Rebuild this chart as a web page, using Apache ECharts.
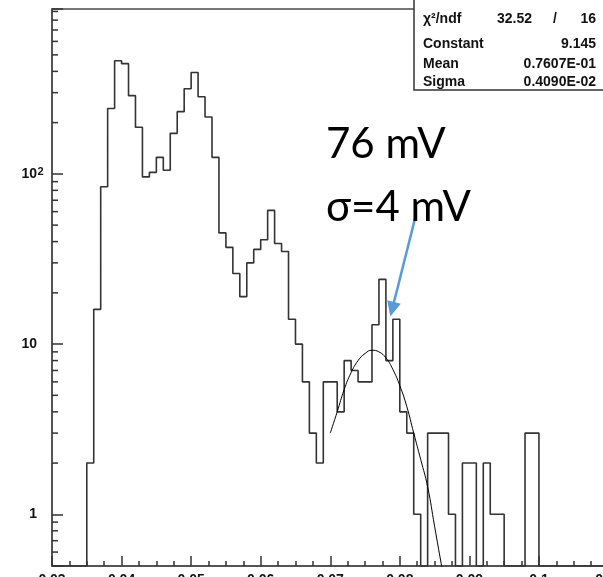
<!DOCTYPE html>
<html>
<head>
<meta charset="utf-8">
<script src="https://cdn.jsdelivr.net/npm/echarts@6/dist/echarts.min.js"></script>
<style>
  html, body { margin: 0; padding: 0; overflow: hidden; background: #fff; }
  #c { width: 610px; height: 577px; }
</style>
</head>
<body>
<div id="c"></div>
<script>
// Pulse-height histogram: 80 bins of 0.001 from 0.030 to 0.110
const binStart = 0.030;
const binWidth = 0.001;
const counts = [
  0, 0, 0, 0, 0,   2, 16, 84, 242, 462,
  444, 288, 188, 96, 102,   125, 105, 173, 232, 316,
  394, 284, 216, 125, 45,   37, 26, 19, 30, 36,
  41, 61, 39, 35, 14,   10, 6, 3, 2, 6,
  6, 4, 8, 7, 6,   6, 13, 24, 8, 14,
  4, 3, 1, 0, 3,   3, 3, 1, 0, 2,
  2, 0, 2, 1, 1,   0, 0, 0, 3, 3,
  0, 0, 0, 0, 0,   0, 0, 0, 0, 0
];

// Gaussian fit curve, sampled along its fit range
const fitX = [0.070, 0.071, 0.072, 0.073, 0.074, 0.075, 0.076, 0.077, 0.078,
              0.079, 0.080, 0.081, 0.082, 0.083, 0.084, 0.085, 0.086, 0.087];
const fitY = [3.0, 4.0, 5.4, 6.8, 8.0, 8.8, 9.2, 9.0, 8.3,
              7.1, 5.7, 4.3, 3.0, 2.1, 1.45, 0.85, 0.5, 0.3];

// Axis ranges
const xMin = 0.03, xMax = 0.11, xStep = 0.01;
const yMin = 0.497, yMax = 930;
const yMinorTicks = [0.6, 0.7, 0.8, 0.9,
                     2, 3, 4, 5, 6, 7, 8, 9,
                     20, 30, 40, 50, 60, 70, 80, 90,
                     200, 300, 400, 500, 600, 700, 800, 900];

// Fit statistics box
const statLabels = ['χ²/ndf', 'Constant', 'Mean', 'Sigma'];
const statValues = ['', '9.145', '0.7607E-01', '0.4090E-02'];
const chiValue = '32.52', ndfValue = '16';

// Annotation
const noteLines = ['76 mV', 'σ=4 mV'];
const arrowFrom = [0.0823, 57];
const arrowTo = [0.0789, 16];

// Step outline points: one per bin edge, empty bins rest on the axis floor
const histPoints = counts.map((c, i) => [+(binStart + i * binWidth).toFixed(4), c > 0 ? c : yMin]);
histPoints.push([+(binStart + counts.length * binWidth).toFixed(4), counts[counts.length - 1] > 0 ? counts[counts.length - 1] : yMin]);

const fitPoints = fitX.map((x, i) => [x, fitY[i]]);

const chart = echarts.init(document.getElementById('c'), null, { renderer: 'canvas' });

const isDecade = v => Math.abs(Math.log10(v) - Math.round(Math.log10(v))) < 1e-6;

const statFont = 'bold 14px "Liberation Sans", Arial, sans-serif';
const boxLeft = 414, boxRight = 596;
const rowY = [19, 44, 64, 82];

const graphics = [
  { type: 'rect', shape: { x: boxLeft, y: -2, width: 220, height: 92 },
    style: { fill: '#fff', stroke: '#333', lineWidth: 1.5 }, z: 100 }
];
statLabels.forEach((t, i) => {
  graphics.push({ type: 'text', x: boxLeft + 9, y: rowY[i], z: 101,
    style: { text: t, font: statFont, fill: '#111', verticalAlign: 'middle', align: 'left' } });
  if (statValues[i]) {
    graphics.push({ type: 'text', x: boxRight, y: rowY[i], z: 101,
      style: { text: statValues[i], font: statFont, fill: '#111', verticalAlign: 'middle', align: 'right' } });
  }
});
graphics.push({ type: 'text', x: 532, y: rowY[0], z: 101,
  style: { text: chiValue, font: statFont, fill: '#111', verticalAlign: 'middle', align: 'right' } });
graphics.push({ type: 'text', x: 555, y: rowY[0], z: 101,
  style: { text: '/', font: statFont, fill: '#111', verticalAlign: 'middle', align: 'center' } });
graphics.push({ type: 'text', x: boxRight, y: rowY[0], z: 101,
  style: { text: ndfValue, font: statFont, fill: '#111', verticalAlign: 'middle', align: 'right' } });

const noteFont = '42px Lato, "Open Sans", sans-serif';
graphics.push({ type: 'text', x: 326, y: 144, z: 90,
  style: { text: noteLines[0], font: noteFont, fill: '#000', verticalAlign: 'middle' } });
graphics.push({ type: 'text', x: 326, y: 207, z: 90,
  style: { text: noteLines[1], font: noteFont, fill: '#000', verticalAlign: 'middle' } });

chart.setOption({
  animation: false,
  backgroundColor: '#fff',
  grid: { left: 52, top: 9, width: 556.5, height: 557, show: true,
          containLabel: false, outerBoundsMode: 'none',
          borderColor: '#4a4a4a', borderWidth: 1.5, backgroundColor: 'transparent' },
  xAxis: {
    type: 'value', min: xMin, max: xMax, interval: xStep,
    axisLine: { show: true, lineStyle: { color: '#4a4a4a', width: 1.5 } },
    axisTick: { show: true, inside: true, length: 10, lineStyle: { color: '#333', width: 1.5 } },
    minorTick: { show: true, splitNumber: 4, length: 5, lineStyle: { color: '#333', width: 1.5 } },
    splitLine: { show: false },
    axisLabel: { margin: 7, color: '#111', fontSize: 14, fontWeight: 'bold',
                 fontFamily: '"Liberation Sans", Arial, sans-serif' }
  },
  yAxis: {
    type: 'log', logBase: 10, min: yMin, max: yMax,
    axisLine: { show: true, lineStyle: { color: '#4a4a4a', width: 1.5 } },
    axisTick: { show: true, inside: true, length: 11, lineStyle: { color: '#333', width: 1.5 } },
    splitLine: { show: false },
    axisLabel: {
      margin: 8, color: '#111',
      formatter: v => {
        if (!isDecade(v)) return '';
        const e = Math.round(Math.log10(v));
        if (e <= 1) return String(Math.round(v)) + '{p|}';
        return '10{s|' + e + '}';
      },
      rich: {
        p: { width: 7 },
        s: { fontSize: 11, width: 7, align: 'left', verticalAlign: 'top', fontWeight: 'bold',
             fontFamily: '"Liberation Sans", Arial, sans-serif', color: '#111' }
      },
      fontSize: 14, fontWeight: 'bold', fontFamily: '"Liberation Sans", Arial, sans-serif'
    }
  },
  graphic: graphics,
  series: [
    {
      type: 'line', data: histPoints, step: 'end', symbol: 'none',
      lineStyle: { color: '#333', width: 1.6 }, clip: true, silent: true, z: 3
    },
    {
      type: 'line', data: fitPoints, smooth: true, symbol: 'none',
      lineStyle: { color: '#000', width: 1 }, clip: true, silent: true, z: 4,
      markLine: {
        silent: true, symbol: ['none', 'triangle'], symbolSize: [14, 15],
        label: { show: false },
        lineStyle: { color: '#5b9bd5', width: 2.5, type: 'solid' },
        data: [[{ coord: arrowFrom }, { coord: arrowTo }]]
      }
    },
    {
      type: 'custom', coordinateSystem: 'cartesian2d', silent: true, z: 5,
      data: yMinorTicks.map(v => [xMin, v]),
      renderItem: (params, api) => {
        const p = api.coord([api.value(0), api.value(1)]);
        return { type: 'line', shape: { x1: p[0], y1: p[1], x2: p[0] + 6, y2: p[1] },
                 style: { stroke: '#333', lineWidth: 1.5 } };
      }
    }
  ]
});
</script>
</body>
</html>
